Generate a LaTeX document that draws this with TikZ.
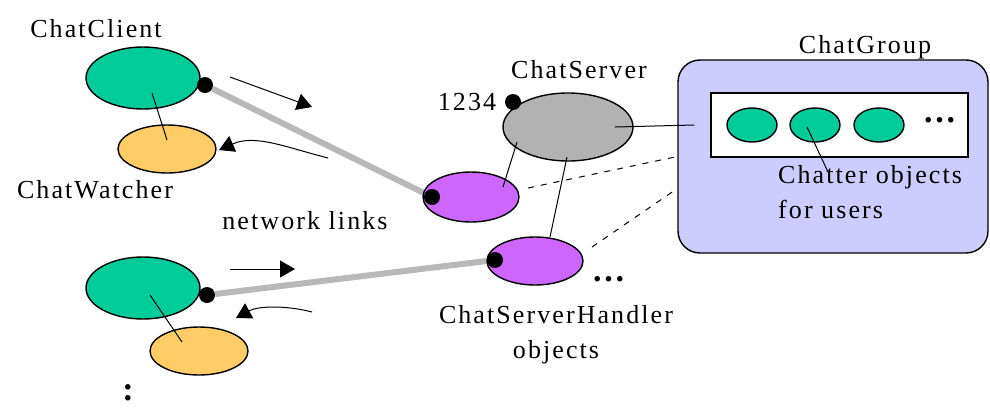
\documentclass[tikz,border=0pt]{standalone}
\usepackage{fontspec}
\setmainfont{Liberation Serif}[LetterSpace=8]
\usetikzlibrary{shapes.geometric, arrows.meta, backgrounds}
\definecolor{clientgreen}{RGB}{0,204,153}
\definecolor{watcherorange}{RGB}{255,204,102}
\definecolor{servergray}{RGB}{178,178,178}
\definecolor{handlerpurple}{RGB}{204,102,255}
\definecolor{grouplilac}{RGB}{204,204,255}
\definecolor{linkgray}{RGB}{184,184,184}
\tikzset{obj/.style={ellipse, draw, line width=1.4pt, inner sep=0pt},
  port/.style={circle, fill=black, inner sep=0pt, minimum size=16pt},
  link/.style={line width=6pt, draw=linkgray},
  flow/.style={-{Triangle[length=15pt,width=17pt]}, line width=1pt},
  lbl/.style={font=\fontsize{26}{35}\selectfont, inner sep=0pt},
  dots/.style={font=\fontsize{34}{34}\selectfont\bfseries, inner sep=0pt}}
\newcommand{\blob}[5]{\node[obj, fill=#1, minimum width=#4, minimum height=#5] (#2) at (#3) {};}

\begin{document}
\begin{tikzpicture}[x=1pt,y=-1pt]
\useasboundingbox (0,0) rectangle (990,410);
% chat group
\node[draw, fill=grouplilac, line width=1.4pt, rounded corners=22pt, minimum width=310, minimum height=193] (group) at (833,156.5) {};
\node[draw, fill=white, line width=1.4pt, inner sep=0pt, minimum width=257, minimum height=64] (chatters) at (839.5,125) {};
\blob{clientgreen}{chatter1}{752,125}{50}{34}
\blob{clientgreen}{chatter2}{815,125}{50}{34}
\blob{clientgreen}{chatter3}{879,125}{50}{34}
\node[dots, anchor=base west] (more3) at (924,122) {...};
\node[lbl, anchor=base] (grouplbl) at (865,53) {ChatGroup};
\node[lbl, anchor=north west, align=left] (note) at (778,165) {Chatter objects\\for users};
\draw[line width=1pt] ([shift={(-8,2)}]chatter2.center) -- ([shift={(50,7)}]note.north west);
% server side
\blob{servergray}{server}{568,127}{130}{68}
\blob{handlerpurple}{handler1}{471,197}{96}{50}
\blob{handlerpurple}{handler2}{535,261}{96}{48}
\node[port] (sport) at (513,102) {};
\node[port] (hport1) at (432,197) {};
\node[port] (hport2) at (495,260) {};
\node[lbl, anchor=base] (serverlbl) at (579,78) {ChatServer};
\node[lbl, anchor=base] (portlbl) at (467,110) {1234};
\node[lbl, anchor=north, align=center] (handlerlbl) at (556,305) {ChatServerHandler\\objects};
\node[dots, anchor=base west] (more2) at (593,281) {...};
\draw[line width=1pt] ([shift={(-51,15)}]server.center) -- ([shift={(32,-10)}]handler1.center);
\draw[line width=1pt] ([shift={(-1,30)}]server.center) -- ([shift={(15,-24)}]handler2.center);
\draw[line width=1pt] ([xshift=47]server.center) -- ([xshift=-16]chatters.west);
\draw[line width=1pt, dash pattern=on 6pt off 7pt] ([shift={(57,-9)}]handler1.center) -- (group.west);
\draw[line width=1pt, dash pattern=on 6pt off 7pt] ([shift={(57,-14)}]handler2.center) -- ([yshift=-32]group.west);
% clients
\blob{clientgreen}{client1}{143,78}{114}{62}
\blob{watcherorange}{watcher1}{167,149}{98}{48}
\blob{clientgreen}{client2}{143,288}{114}{62}
\blob{watcherorange}{watcher2}{199,351}{98}{48}
\node[port] (cport1) at (205,85) {};
\node[port] (cport2) at (207,295) {};
\node[lbl, anchor=base] (clientlbl) at (96,37) {ChatClient};
\node[lbl, anchor=base] (watcherlbl) at (95,198) {ChatWatcher};
\node[lbl, anchor=base] (netlbl) at (305,229) {network links};
\node[dots, anchor=base] (more1) at (128,400) {:};
\draw[line width=1pt] ([shift={(9,15)}]client1.center) -- ([shift={(0,-9)}]watcher1.center);
\draw[line width=1pt] ([shift={(7,7)}]client2.center) -- ([shift={(-17,-9)}]watcher2.center);
\begin{scope}[on background layer]
\fill[white] (0,0) rectangle (990,410);
\draw[link] (cport1) -- (hport1);
\draw[link] (cport2) -- (hport2);
\end{scope}
% message flow
\coordinate (send1) at (230,77);
\coordinate (send1e) at (312,107);
\coordinate (recv1) at (328,158);
\coordinate (recv1e) at (219,150);
\coordinate (send2) at (230,269);
\coordinate (send2e) at (295,269);
\coordinate (recv2) at (312,312);
\coordinate (recv2e) at (236,318);
\draw[flow] (send1) -- (send1e);
\draw[flow] (recv1) .. controls (285,147) and (255,134) .. (recv1e);
\draw[flow] (send2) -- (send2e);
\draw[flow] (recv2) .. controls (285,305) and (258,306) .. (recv2e);
\end{tikzpicture}
\end{document}
